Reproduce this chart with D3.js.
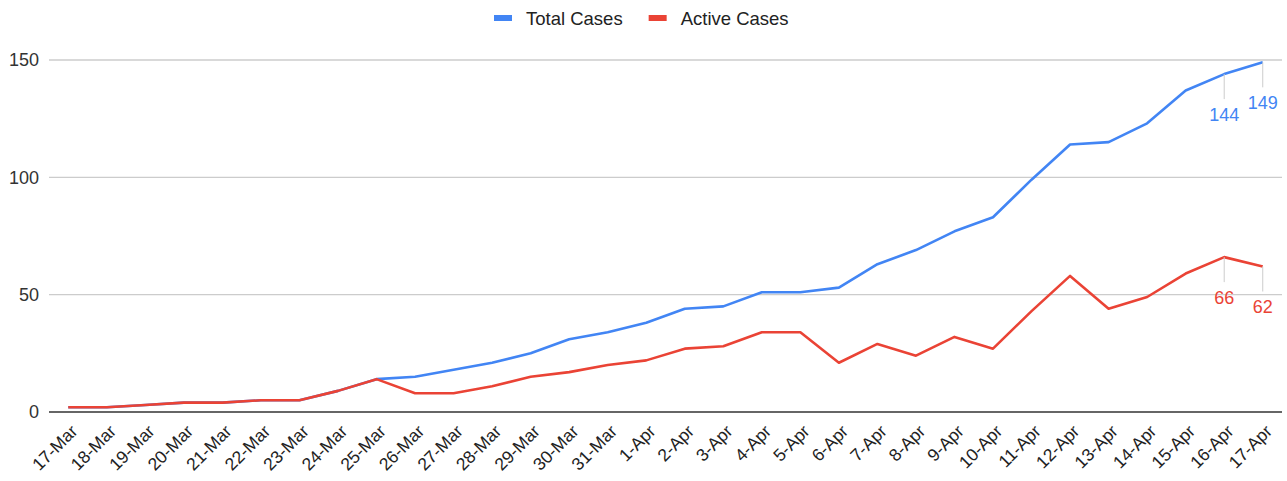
<!DOCTYPE html>
<html>
<head>
<meta charset="utf-8">
<script src="https://cdn.jsdelivr.net/npm/d3@7"></script>
<style>
  body { margin: 0; background: #fff; }
  svg { display: block; font-family: "Liberation Sans", Arial, sans-serif; }
</style>
</head>
<body>
<svg id="chart" width="1287" height="481"></svg>
<script>
// data
const dates = ["17-Mar", "18-Mar", "19-Mar", "20-Mar", "21-Mar", "22-Mar", "23-Mar", "24-Mar",
  "25-Mar", "26-Mar", "27-Mar", "28-Mar", "29-Mar", "30-Mar", "31-Mar", "1-Apr", "2-Apr",
  "3-Apr", "4-Apr", "5-Apr", "6-Apr", "7-Apr", "8-Apr", "9-Apr", "10-Apr", "11-Apr", "12-Apr",
  "13-Apr", "14-Apr", "15-Apr", "16-Apr", "17-Apr"];

const totalCases = [2, 2, 3, 4, 4, 5, 5, 9, 14, 15, 18, 21, 25, 31, 34, 38, 44, 45, 51, 51, 53,
  63, 69, 77, 83, 99, 114, 115, 123, 137, 144, 149];

const activeCases = [2, 2, 3, 4, 4, 5, 5, 9, 14, 8, 8, 11, 15, 17, 20, 22, 27, 28, 34, 34, 21,
  29, 24, 32, 27, 43, 58, 44, 49, 59, 66, 62];

const yTicks = [0, 50, 100, 150];

const series = [
  {name: "Total Cases", values: totalCases, color: "#4285f4"},
  {name: "Active Cases", values: activeCases, color: "#ea4335"}
];

// points that carry a value label
const labelled = ["16-Apr", "17-Apr"];

const margin = {top: 60, right: 5, bottom: 69, left: 49};
const width = 1287, height = 481;

const svg = d3.select("#chart");

const x = d3.scalePoint()
  .domain(dates)
  .range([margin.left, width - margin.right])
  .padding(0.5);

const y = d3.scaleLinear()
  .domain([0, 150])
  .range([height - margin.bottom, margin.top]);

// gridlines + y labels
const grid = svg.append("g");
grid.selectAll("line")
  .data(yTicks)
  .join("line")
  .attr("x1", margin.left)
  .attr("x2", width - margin.right)
  .attr("y1", d => y(d))
  .attr("y2", d => y(d))
  .attr("stroke", d => d === 0 ? "#333" : "#ccc")
  .attr("stroke-width", 1.3);

grid.selectAll("text")
  .data(yTicks)
  .join("text")
  .attr("x", margin.left - 10)
  .attr("y", d => y(d))
  .attr("dy", "0.36em")
  .attr("text-anchor", "end")
  .attr("fill", "#333")
  .style("font-size", "18px")
  .text(d => d);

// x labels, rotated
svg.append("g")
  .selectAll("text")
  .data(dates)
  .join("text")
  .attr("transform", d => `translate(${x(d) + 6},${height - margin.bottom + 16}) rotate(-45)`)
  .attr("text-anchor", "end")
  .attr("dy", "0.35em")
  .attr("fill", "#222")
  .style("font-size", "17.5px")
  .text(d => d);

// lines, active drawn last so it sits on top where they overlap
const line = d3.line()
  .x((d, i) => x(dates[i]))
  .y(d => y(d));

svg.append("g")
  .selectAll("path")
  .data(series)
  .join("path")
  .attr("d", d => line(d.values))
  .attr("fill", "none")
  .attr("stroke", d => d.color)
  .attr("stroke-width", 2.6)
  .attr("stroke-linejoin", "round");

// value annotations with stems
series.forEach(s => {
  labelled.forEach(day => {
    const i = dates.indexOf(day);
    const px = x(day), py = y(s.values[i]);
    svg.append("line")
      .attr("x1", px).attr("x2", px)
      .attr("y1", py).attr("y2", py + 25)
      .attr("stroke", "#ccc")
      .attr("stroke-width", 1);
    svg.append("text")
      .attr("x", px)
      .attr("y", py + 40)
      .attr("dy", "0.36em")
      .attr("text-anchor", "middle")
      .attr("fill", s.color)
      .style("font-size", "18px")
      .text(s.values[i]);
  });
});

// legend
const legend = svg.append("g")
  .attr("transform", "translate(494,18)");

let lx = 0;
series.forEach(s => {
  const item = legend.append("g").attr("transform", `translate(${lx},0)`);
  item.append("rect")
    .attr("x", 0).attr("y", -3)
    .attr("width", 18).attr("height", 6)
    .attr("fill", s.color);
  const t = item.append("text")
    .attr("x", 32)
    .attr("dy", "0.36em")
    .attr("fill", "#222")
    .style("font-size", "18.5px")
    .text(s.name);
  lx += 32 + t.node().getComputedTextLength() + 26;
});
</script>
</body>
</html>
